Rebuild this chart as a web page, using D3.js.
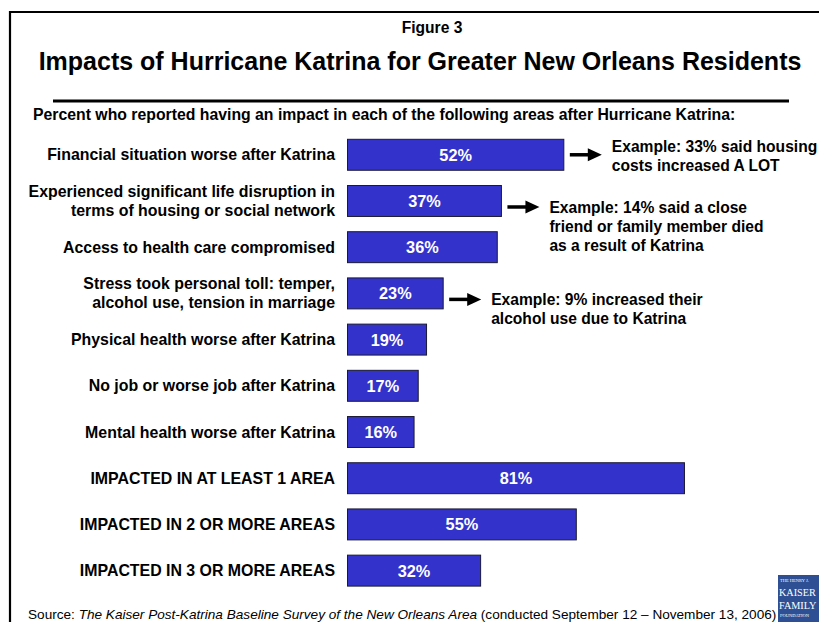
<!DOCTYPE html>
<html>
<head>
<meta charset="utf-8">
<script src="https://cdn.jsdelivr.net/npm/d3@7"></script>
<style>
  body { margin: 0; background: #fff; }
  svg { display: block; font-family: Arial, "Liberation Sans", sans-serif; }
</style>
</head>
<body>
<svg id="chart" width="819" height="622"></svg>
<script>
// categories, top to bottom; two-line labels split on "|"
const categories = [
    'Financial situation worse after Katrina',
    'Experienced significant life disruption in|terms of housing or social network',
    'Access to health care compromised',
    'Stress took personal toll: temper,|alcohol use, tension in marriage',
    'Physical health worse after Katrina',
    'No job or worse job after Katrina',
    'Mental health worse after Katrina',
    'IMPACTED IN AT LEAST 1 AREA',
    'IMPACTED IN 2 OR MORE AREAS',
    'IMPACTED IN 3 OR MORE AREAS'
];
const values = [52, 37, 36, 23, 19, 17, 16, 81, 55, 32];

// callouts attached to bars (index into categories)
const noteBars = [0, 1, 3];
const noteLines = [
    ['Example: 33% said housing', 'costs increased A LOT'],
    ['Example: 14% said a close', 'friend or family member died', 'as a result of Katrina'],
    ['Example: 9% increased their', 'alcohol use due to Katrina']
];
const noteDy = [0, 6, 6];   // vertical nudge of arrow relative to bar centre

const svg = d3.select('#chart');

let xScale = d3.scaleLinear().domain([0, 100]).range([347.5, 763.5]);
let yScale = d3.scaleBand().domain(categories)
    .range([139.3, 586.1])
    .paddingInner(0.33)
    .paddingOuter(0);

// frame
svg.append('path')
    .attr('d', 'M10,640 L10,12 L830,12')
    .attr('fill', 'none')
    .attr('stroke', '#000')
    .attr('stroke-width', 2.2);

svg.append('text')
    .attr('x', 432).attr('y', 33)
    .attr('text-anchor', 'middle')
    .attr('font-weight', 'bold')
    .attr('font-size', 15.6)
    .text('Figure 3');

svg.append('text')
    .attr('x', 420).attr('y', 70)
    .attr('text-anchor', 'middle')
    .attr('font-weight', 'bold')
    .attr('font-size', 25)
    .text('Impacts of Hurricane Katrina for Greater New Orleans Residents');

svg.append('line')
    .attr('x1', 53).attr('x2', 789)
    .attr('y1', 101).attr('y2', 101)
    .attr('stroke', '#000')
    .attr('stroke-width', 3);

svg.append('text')
    .attr('x', 33).attr('y', 120)
    .attr('font-weight', 'bold')
    .attr('font-size', 15.8)
    .text('Percent who reported having an impact in each of the following areas after Hurricane Katrina:');

// bars
let gBars = svg.append('g');
let rows = gBars.selectAll('g.row')
    .data(categories.map((c, i) => ({cat: c, val: values[i]})))
    .enter()
    .append('g')
    .classed('row', true);

rows.append('rect')
    .attr('x', xScale(0))
    .attr('y', d => yScale(d.cat))
    .attr('width', d => xScale(d.val) - xScale(0))
    .attr('height', yScale.bandwidth())
    .attr('fill', '#3333CC')
    .attr('stroke', '#1a1a33')
    .attr('stroke-width', 1);

rows.append('text')
    .attr('x', d => (xScale(0) + xScale(d.val)) / 2)
    .attr('y', d => yScale(d.cat) + yScale.bandwidth() / 2 + 6)
    .attr('text-anchor', 'middle')
    .attr('fill', '#fff')
    .attr('font-weight', 'bold')
    .attr('font-size', 16.3)
    .text(d => d.val + '%');

// category labels
rows.append('text')
    .attr('text-anchor', 'end')
    .attr('font-weight', 'bold')
    .attr('font-size', 15.9)
    .each(function(d) {
        let parts = d.cat.split('|');
        let cy = yScale(d.cat) + yScale.bandwidth() / 2;
        let lh = 19;
        let top = cy + 5.5 - (parts.length - 1) * lh / 2;
        d3.select(this).selectAll('tspan')
            .data(parts)
            .enter()
            .append('tspan')
            .attr('x', 335)
            .attr('y', (p, j) => top + j * lh)
            .text(p => p);
    });

// callouts with arrows
noteBars.forEach((bi, k) => {
    let cat = categories[bi];
    let x0 = xScale(values[bi]) + 6;
    let cy = yScale(cat) + yScale.bandwidth() / 2 + noteDy[k];
    let g = svg.append('g');
    g.append('line')
        .attr('x1', x0).attr('x2', x0 + 20)
        .attr('y1', cy).attr('y2', cy)
        .attr('stroke', '#000')
        .attr('stroke-width', 3.5);
    g.append('path')
        .attr('d', `M${x0 + 18},${cy - 6.5} L${x0 + 32},${cy} L${x0 + 18},${cy + 6.5} Z`)
        .attr('fill', '#000');
    let t = g.append('text')
        .attr('font-weight', 'bold')
        .attr('font-size', 15.6);
    let top = k === 0 ? cy - 3 : cy + 6;
    t.selectAll('tspan')
        .data(noteLines[k])
        .enter()
        .append('tspan')
        .attr('x', x0 + 42)
        .attr('y', (p, j) => top + j * 18.8)
        .text(p => p);
});

// source line
let src = svg.append('text')
    .attr('x', 28).attr('y', 619)
    .attr('font-size', 13.6);
src.append('tspan').text('Source: ');
src.append('tspan').attr('font-style', 'italic')
    .text('The Kaiser Post-Katrina Baseline Survey of the New Orleans Area');
src.append('tspan').text(' (conducted September 12 \u2013 November 13, 2006)');

// logo
let logo = svg.append('g')
    .attr('font-family', '"Liberation Serif", serif')
    .attr('fill', '#fff');
logo.append('rect')
    .attr('x', 778).attr('y', 575)
    .attr('width', 50).attr('height', 50)
    .attr('fill', '#2e4f94');
logo.append('text')
    .attr('x', 780).attr('y', 582)
    .attr('font-size', 4.5)
    .text('THE HENRY J.');
logo.append('text')
    .attr('x', 779).attr('y', 596)
    .attr('font-size', 10.2)
    .text('KAISER');
logo.append('text')
    .attr('x', 779).attr('y', 609)
    .attr('font-size', 10.2)
    .text('FAMILY');
logo.append('text')
    .attr('x', 780).attr('y', 617)
    .attr('font-size', 4.5)
    .text('FOUNDATION');
</script>
</body>
</html>
